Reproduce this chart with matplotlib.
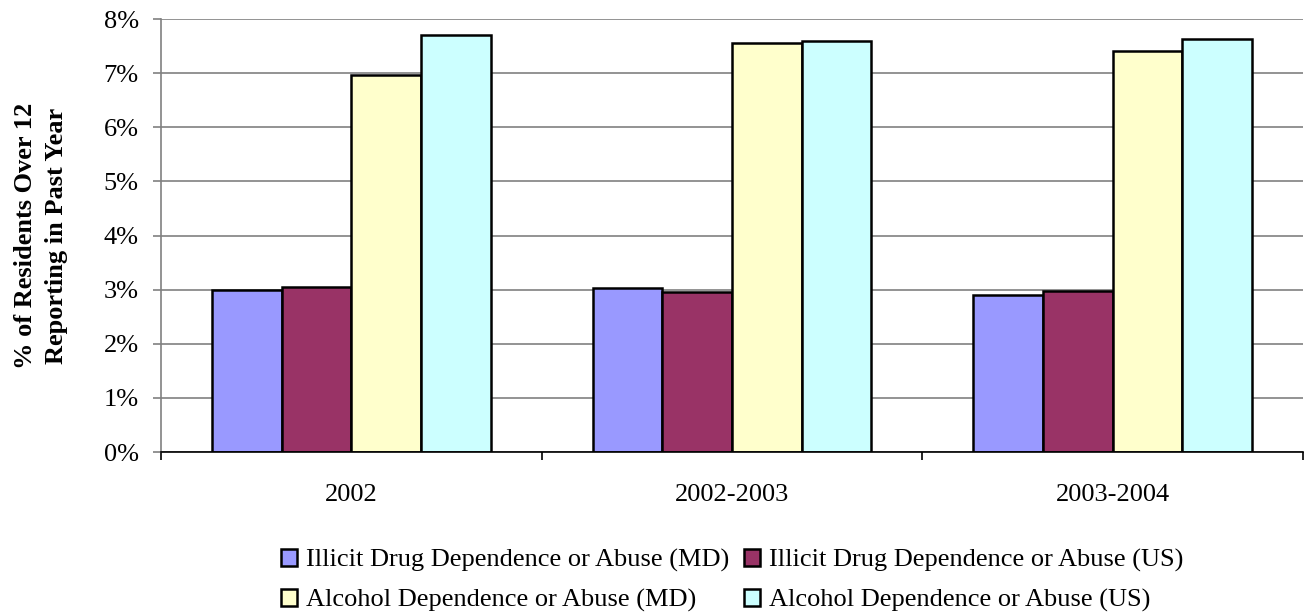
import numpy as np
import matplotlib.pyplot as plt

periods = ['2002', '2002-2003', '2003-2004']
series = ['Illicit Drug Dependence or Abuse (MD)', 'Illicit Drug Dependence or Abuse (US)',
          'Alcohol Dependence or Abuse (MD)', 'Alcohol Dependence or Abuse (US)']
illicit_md = [3.00, 3.03, 2.90]
illicit_us = [3.05, 2.96, 2.97]
alcohol_md = [6.96, 7.56, 7.41]
alcohol_us = [7.71, 7.60, 7.63]
colors = ['#9999FF', '#993366', '#FFFFCC', '#CCFFFF']

plt.rcParams['font.family'] = ['Liberation Serif', 'DejaVu Serif']

fig = plt.figure(figsize=(13.06, 6.14), dpi=100)
ax = fig.add_axes([0.1233, 0.2638, 0.8744, 0.7052])

x = np.arange(len(periods))
w = 0.183
values = [illicit_md, illicit_us, alcohol_md, alcohol_us]
bars = []
for i, vals in enumerate(values):
    b = ax.bar(x + (i - 1.5) * w, vals, w, color=colors[i], edgecolor='black',
               linewidth=1.8, label=series[i], zorder=3)
    bars.append(b)

ax.set_xlim(-0.5, 2.5)
ax.set_ylim(0, 8)
ax.set_yticks(range(0, 9))
ax.set_yticklabels([f'{v}%' for v in range(0, 9)], fontsize=19)
ax.yaxis.grid(True, color='#808080', linewidth=1.2, zorder=0)
ax.set_xticks(x)
ax.set_xticklabels(periods, fontsize=19)
ax.tick_params(axis='x', length=0, pad=23)
ax.set_xticks([-0.5, 0.5, 1.5, 2.5], minor=True)
ax.tick_params(axis='x', which='minor', length=6, color='black', width=1.2)
ax.tick_params(axis='y', length=6, color='#808080', width=1.2, pad=10)
for s in ['top', 'right']:
    ax.spines[s].set_visible(False)
ax.spines['left'].set_color('#808080')
ax.spines['left'].set_linewidth(1.2)
ax.spines['bottom'].set_color('black')
ax.spines['bottom'].set_linewidth(1.2)
ax.spines['bottom'].set_zorder(4)

ax.set_ylabel('% of Residents Over 12\nReporting in Past Year', fontsize=19,
              fontweight='bold', labelpad=26, linespacing=1.4)

# row-wise legend order
order = [0, 2, 1, 3]
ax.legend([bars[i] for i in order], [series[i] for i in order],
          loc='upper center', bbox_to_anchor=(0.5, -0.17), ncol=2, frameon=False,
          fontsize=19, handlelength=0.6, handleheight=0.6, handletextpad=0.35,
          columnspacing=0.55, labelspacing=0.62)

fig.savefig('out.png', dpi=100)
